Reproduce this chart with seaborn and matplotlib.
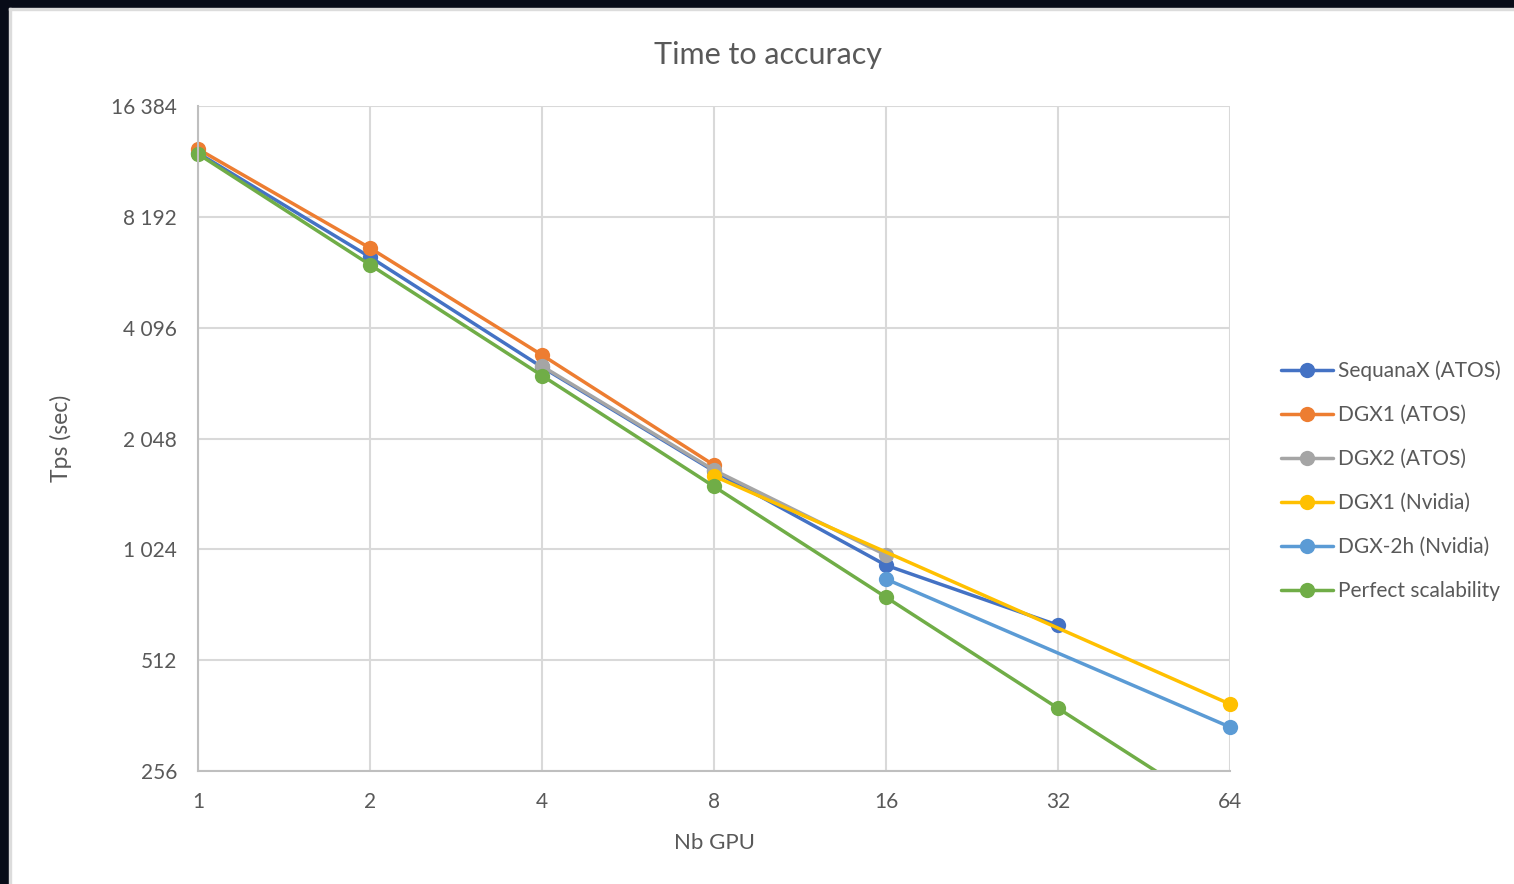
import pandas as pd
import matplotlib.pyplot as plt
import seaborn as sns
from matplotlib.lines import Line2D
from matplotlib.patches import Rectangle

# GPU counts and time-to-accuracy per system
SERIES = ["SequanaX (ATOS)", "DGX1 (ATOS)", "DGX2 (ATOS)",
          "DGX1 (Nvidia)", "DGX-2h (Nvidia)", "Perfect scalability"]

sequanax_gpu = [1, 2, 4, 8, 16, 32]
sequanax_tps = [12210, 6370, 3200, 1670, 927, 637]

dgx1_atos_gpu = [1, 2, 4, 8]
dgx1_atos_tps = [12520, 6740, 3452, 1734]

dgx2_atos_gpu = [4, 8, 16]
dgx2_atos_tps = [3220, 1681, 988]

dgx1_nvidia_gpu = [8, 64]
dgx1_nvidia_tps = [1619, 389]

dgx2h_nvidia_gpu = [16, 64]
dgx2h_nvidia_tps = [850, 337]

perfect_gpu = [1, 2, 4, 8, 16, 32, 64]
perfect_tps = [12140, 6070, 3035, 1517, 759, 379, 190]

X_TICKS = [1, 2, 4, 8, 16, 32, 64]
Y_TICKS = [256, 512, 1024, 2048, 4096, 8192, 16384]
Y_TICK_LABELS = ["256", "512", "1 024", "2 048", "4 096", "8 192", "16 384"]

COLORS = ["#4472C4", "#ED7D31", "#A5A5A5", "#FFC000", "#5B9BD5", "#70AD47"]
TEXT = "#595959"
GRID = "#D9D9D9"
LW = 2.5
MS = 11


def build_frame():
    parts = [
        (SERIES[0], sequanax_gpu, sequanax_tps),
        (SERIES[1], dgx1_atos_gpu, dgx1_atos_tps),
        (SERIES[2], dgx2_atos_gpu, dgx2_atos_tps),
        (SERIES[3], dgx1_nvidia_gpu, dgx1_nvidia_tps),
        (SERIES[4], dgx2h_nvidia_gpu, dgx2h_nvidia_tps),
        (SERIES[5], perfect_gpu, perfect_tps),
    ]
    rows = []
    for name, xs, ys in parts:
        for x, y in zip(xs, ys):
            rows.append({"system": name, "gpu": x, "tps": y})
    return pd.DataFrame(rows)


def plot_time_to_accuracy():
    df = build_frame()

    sns.set_theme(style="white")
    plt.rcParams["font.family"] = ["Lato", "DejaVu Sans"]

    fig = plt.figure(figsize=(15.14, 8.84), dpi=100)
    ax = fig.add_axes([198 / 1514, 1 - 771 / 884, 1032 / 1514, 665 / 884])

    sns.lineplot(data=df, x="gpu", y="tps", hue="system", hue_order=SERIES,
                 palette=COLORS, marker="o", markersize=MS, markeredgewidth=0,
                 linewidth=LW, estimator=None, sort=False, legend=False, ax=ax)

    # let markers on the plot edges show in full, but cut lines at the bottom
    clip = Rectangle((-0.05, 0), 1.1, 1.1, transform=ax.transAxes,
                     facecolor="none", edgecolor="none")
    ax.add_patch(clip)
    for line in ax.lines:
        line.set_clip_path(clip)

    ax.set_xscale("log", base=2)
    ax.set_yscale("log", base=2)
    ax.set_xlim(1, 64)
    ax.set_ylim(256, 16384)
    ax.set_xticks(X_TICKS)
    ax.set_xticklabels([str(v) for v in X_TICKS])
    ax.set_yticks(Y_TICKS)
    ax.set_yticklabels(Y_TICK_LABELS)
    ax.minorticks_off()
    ax.tick_params(length=0, labelsize=15, colors=TEXT)
    ax.tick_params(axis="x", pad=15)
    ax.tick_params(axis="y", pad=15)

    ax.grid(True, color=GRID, linewidth=1.5)
    ax.set_axisbelow(True)
    for side in ["top", "right"]:
        ax.spines[side].set_visible(False)
    for side in ["left", "bottom"]:
        ax.spines[side].set_color("#BFBFBF")
        ax.spines[side].set_linewidth(1.5)

    ax.set_xlabel("Nb GPU", fontsize=16, color=TEXT, labelpad=15)
    ax.set_ylabel("Tps (sec)", fontsize=16.5, color=TEXT, labelpad=28)

    fig.text(768 / 1514, 1 - 55 / 884, "Time to accuracy", fontsize=22,
             color=TEXT, ha="center", va="center")

    handles = [Line2D([], [], color=c, linewidth=LW, marker="o", markersize=MS,
                      markeredgewidth=0) for c in COLORS]
    fig.legend(handles, SERIES, loc="center left",
               bbox_to_anchor=(1281 / 1514, 1 - 481 / 884), frameon=False,
               fontsize=15, labelcolor=TEXT, handlelength=2.5,
               handletextpad=0.25, labelspacing=1.15, borderpad=0,
               borderaxespad=0)

    # dark frame of the screenshot along the top and left edges
    fig.patches.append(Rectangle((0, 1 - 8 / 884), 1, 8 / 884,
                                 transform=fig.transFigure, color="#080C18"))
    fig.patches.append(Rectangle((0, 0), 9 / 1514, 1,
                                 transform=fig.transFigure, color="#080C18"))
    fig.patches.append(Rectangle((9 / 1514, 1 - 10 / 884), 1, 2 / 884,
                                 transform=fig.transFigure, color="#DCDCDC"))
    fig.patches.append(Rectangle((9 / 1514, 0), 2 / 1514, 1 - 8 / 884,
                                 transform=fig.transFigure, color="#DCDCDC"))

    fig.savefig("out.png", dpi=100)
    plt.close(fig)


if __name__ == "__main__":
    plot_time_to_accuracy()
